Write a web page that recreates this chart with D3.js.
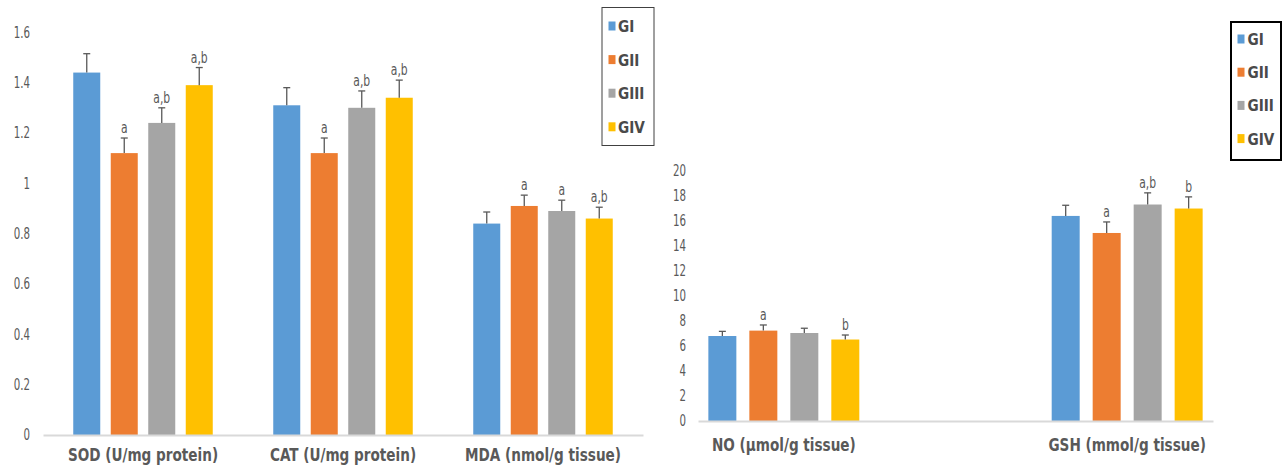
<!DOCTYPE html>
<html>
<head>
<meta charset="utf-8">
<script src="https://cdn.jsdelivr.net/npm/d3@7"></script>
<style>
body { margin: 0; background: #fff; }
text { font-family: "Liberation Sans Narrow", "DejaVu Sans Condensed", "Roboto", sans-serif; }
</style>
</head>
<body>
<div id="chart"></div>
<script>
// groups and colours
var groups = ["GI", "GII", "GIII", "GIV"];
var colors = ["#5b9bd5", "#ed7d31", "#a5a5a5", "#ffc000"];

// left panel: SOD, CAT, MDA
var leftCats = ["SOD (U/mg protein)", "CAT (U/mg protein)", "MDA (nmol/g tissue)"];
var sodMean = [1.44, 1.12, 1.24, 1.39];
var sodErr  = [0.075, 0.06, 0.06, 0.07];
var sodSig  = ["", "a", "a,b", "a,b"];
var catMean = [1.31, 1.12, 1.30, 1.34];
var catErr  = [0.07, 0.06, 0.067, 0.07];
var catSig  = ["", "a", "a,b", "a,b"];
var mdaMean = [0.84, 0.91, 0.89, 0.86];
var mdaErr  = [0.046, 0.043, 0.043, 0.045];
var mdaSig  = ["", "a", "a", "a,b"];
var leftTicks = [0, 0.2, 0.4, 0.6, 0.8, 1, 1.2, 1.4, 1.6];

// right panel: NO, (empty slot), GSH
var rightCats = ["NO (\u00b5mol/g tissue)", "", "GSH (mmol/g tissue)"];
var noMean  = [6.78, 7.21, 7.02, 6.50];
var noErr   = [0.37, 0.45, 0.38, 0.36];
var noSig   = ["", "a", "", "b"];
var gshMean = [16.36, 15.0, 17.27, 16.95];
var gshErr  = [0.85, 0.88, 0.93, 0.93];
var gshSig  = ["", "a", "a,b", "b"];
var rightTicks = [0, 2, 4, 6, 8, 10, 12, 14, 16, 18, 20];

var w = 1287, h = 472;
var svg = d3.select("#chart").append("svg")
    .attr("width", w)
    .attr("height", h);

// no narrow font installed, so squeeze the text horizontally
function squeeze(sel, sx) {
    sel.each(function() {
        var t = d3.select(this);
        var x = +t.attr("x") || 0, y = +t.attr("y") || 0;
        t.attr("x", 0).attr("y", 0)
         .attr("transform", "translate(" + x + "," + y + ") scale(" + sx + ",1)");
    });
}

function build(cats, means, errs, sigs) {
    var rows = [];
    cats.forEach(function(c, ci) {
        if (!means[ci]) return; // empty slot
        groups.forEach(function(g, gi) {
            rows.push({cat: c, group: g, i: gi, mean: means[ci][gi], err: errs[ci][gi], sig: sigs[ci][gi]});
        });
    });
    return rows;
}

function drawPanel(o) {
    var x0 = d3.scaleBand().domain(o.cats).range([o.x1, o.x2])
        .paddingInner(o.pad).paddingOuter(o.pad / 2);
    var x1 = d3.scaleBand().domain(groups).range([0, x0.bandwidth()])
        .paddingInner(o.barPad).paddingOuter(o.barPad / 2);
    var y = d3.scaleLinear().domain(o.domain).range([o.y0, o.yTop]);

    var g = svg.append("g");

    // y axis labels only
    var ya = g.append("g")
        .attr("transform", "translate(" + o.x1 + ",0)")
        .call(d3.axisLeft(y).tickValues(o.ticks).tickSize(0).tickPadding(o.yPad).tickFormat(String));
    ya.select(".domain").remove();
    ya.selectAll("text").attr("fill", "#595959").style("font-size", "15px").call(squeeze, 0.76);

    var data = build(o.cats, o.means, o.errs, o.sigs);

    var bars = g.selectAll(".bar").data(data).enter().append("g")
        .attr("transform", function(d) { return "translate(" + (x0(d.cat) + x1(d.group)) + ",0)"; });

    bars.append("rect")
        .attr("y", function(d) { return y(d.mean); })
        .attr("width", x1.bandwidth())
        .attr("height", function(d) { return y(0) - y(d.mean); })
        .attr("fill", function(d) { return colors[d.i]; });

    var cx = x1.bandwidth() / 2;
    bars.append("line")
        .attr("x1", cx).attr("x2", cx)
        .attr("y1", function(d) { return y(d.mean); })
        .attr("y2", function(d) { return y(d.mean + d.err); })
        .attr("stroke", "#595959").attr("stroke-width", 1.3);
    bars.append("line")
        .attr("x1", cx - 3.5).attr("x2", cx + 3.5)
        .attr("y1", function(d) { return y(d.mean + d.err); })
        .attr("y2", function(d) { return y(d.mean + d.err); })
        .attr("stroke", "#595959").attr("stroke-width", 1.3);

    bars.append("text")
        .attr("x", cx)
        .attr("y", function(d) { return y(d.mean + d.err) - 5; })
        .attr("text-anchor", "middle")
        .attr("fill", "#595959")
        .style("font-size", "15px")
        .text(function(d) { return d.sig; })
        .call(squeeze, 0.8);

    // x axis
    var xa = g.append("g")
        .attr("transform", "translate(0," + o.y0 + ")")
        .call(d3.axisBottom(x0).tickSize(0).tickSizeOuter(0).tickPadding(o.xPad));
    xa.select(".domain").attr("stroke", "#d9d9d9").attr("stroke-width", 2);
    xa.selectAll("text")
        .attr("fill", "#595959")
        .style("font-size", "18px")
        .style("font-weight", "bold")
        .call(squeeze, 0.84);
}

drawPanel({
    cats: leftCats, means: [sodMean, catMean, mdaMean], errs: [sodErr, catErr, mdaErr], sigs: [sodSig, catSig, mdaSig],
    ticks: leftTicks, domain: [0, 1.6],
    x1: 43, x2: 643, y0: 435, yTop: 32.3, pad: 0.25, barPad: 0.28, yPad: 13, xPad: 13
});

drawPanel({
    cats: rightCats, means: [noMean, null, gshMean], errs: [noErr, null, gshErr], sigs: [noSig, null, gshSig],
    ticks: rightTicks, domain: [0, 20],
    x1: 698, x2: 1213, y0: 421, yTop: 170.3, pad: 0.045, barPad: 0.317, yPad: 12, xPad: 17
});

// legends
function legend(bx, by, bw, bh, stroke, sw, sqX, txX, cy0, dy) {
    var lg = svg.append("g");
    lg.append("rect")
        .attr("x", bx).attr("y", by).attr("width", bw).attr("height", bh)
        .attr("fill", "#fff").attr("stroke", stroke).attr("stroke-width", sw);
    var it = lg.selectAll(".item").data(groups).enter().append("g")
        .attr("transform", function(d, i) { return "translate(0," + (cy0 + i * dy) + ")"; });
    it.append("rect")
        .attr("x", sqX).attr("y", -4.5).attr("width", 7).attr("height", 9)
        .attr("fill", function(d, i) { return colors[i]; });
    it.append("text")
        .attr("x", txX).attr("dy", "0.36em")
        .attr("fill", "#4a4a4a")
        .style("font-size", "16.5px").style("font-weight", "bold")
        .text(function(d) { return d; })
        .call(squeeze, 0.92);
}
legend(602, 7.5, 52, 138, "#404040", 1, 608.5, 618, 26, 33.6);
legend(1231, 22, 50, 138, "#000", 2, 1237.5, 1247.5, 39, 33.2);
</script>
</body>
</html>
